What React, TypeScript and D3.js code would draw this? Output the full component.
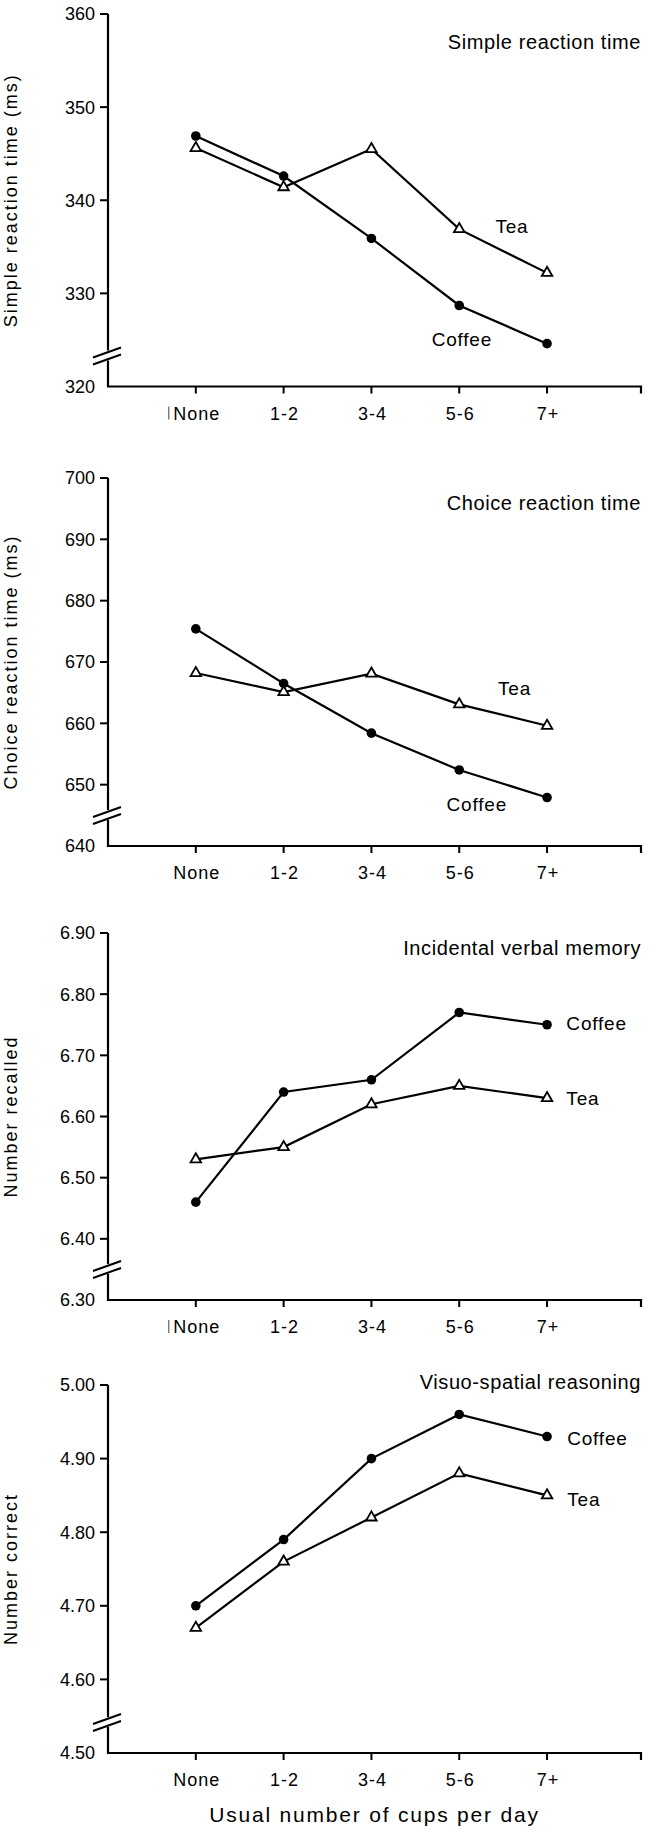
import React from 'react';
import * as d3 from 'd3';

// categories on the x axis
const categories = ['None', '1-2', '3-4', '5-6', '7+'];

// values
const simpleCoffee = [346.9, 342.6, 335.9, 328.7, 324.6];
const simpleTea = [345.6, 341.4, 345.5, 336.9, 332.2];
const choiceCoffee = [675.4, 666.5, 658.4, 652.4, 647.9];
const choiceTea = [668.2, 665.1, 668.1, 663.1, 659.6];
const verbalCoffee = [6.46, 6.64, 6.66, 6.77, 6.75];
const verbalTea = [6.53, 6.55, 6.62, 6.65, 6.63];
const visuoCoffee = [4.7, 4.79, 4.9, 4.96, 4.93];
const visuoTea = [4.67, 4.76, 4.82, 4.88, 4.85];

// y tick labels
const simpleTicks = [320, 330, 340, 350, 360];
const choiceTicks = [640, 650, 660, 670, 680, 690, 700];
const verbalTicks = [6.3, 6.4, 6.5, 6.6, 6.7, 6.8, 6.9];
const visuoTicks = [4.5, 4.6, 4.7, 4.8, 4.9, 5.0];

const FONT = '"Liberation Sans", Arial, Helvetica, sans-serif';
const W = 659;
const H = 1831;
const LEFT = 108;
const RIGHT = 641;

const panels = [
  {
    title: 'Simple reaction time', yLabel: 'Simple reaction time (ms)',
    ticks: simpleTicks, fmt: d3.format('d'), coffee: simpleCoffee, tea: simpleTea,
    top: 14, bottom: 386.5, titleY: 49, mark: true,
    coffeeLabel: { x: 4.03, v: 324.4, anchor: 'middle' }, teaLabel: { x: 4.6, v: 336.5, anchor: 'middle' },
  },
  {
    title: 'Choice reaction time', yLabel: 'Choice reaction time (ms)',
    ticks: choiceTicks, fmt: d3.format('d'), coffee: choiceCoffee, tea: choiceTea,
    top: 478, bottom: 846, titleY: 510, mark: false,
    coffeeLabel: { x: 4.2, v: 645.7, anchor: 'middle' }, teaLabel: { x: 4.63, v: 664.6, anchor: 'middle' },
  },
  {
    title: 'Incidental verbal memory', yLabel: 'Number recalled',
    ticks: verbalTicks, fmt: d3.format('.2f'), coffee: verbalCoffee, tea: verbalTea,
    top: 933, bottom: 1300, titleY: 955, mark: true,
    coffeeLabel: { x: 5.22, v: 6.741, anchor: 'start' }, teaLabel: { x: 5.22, v: 6.619, anchor: 'start' },
  },
  {
    title: 'Visuo-spatial reasoning', yLabel: 'Number correct',
    ticks: visuoTicks, fmt: d3.format('.2f'), coffee: visuoCoffee, tea: visuoTea,
    top: 1385, bottom: 1753, titleY: 1389, mark: false,
    coffeeLabel: { x: 5.23, v: 4.918, anchor: 'start' }, teaLabel: { x: 5.23, v: 4.836, anchor: 'start' },
  },
];

const x = d3.scaleLinear().domain([0, 6.07]).range([LEFT, RIGHT]);
const tri = d3.symbol(d3.symbolTriangle, 48)();

const Panel = ({ p }) => {
  const y = d3.scaleLinear()
    .domain([p.ticks[0], p.ticks[p.ticks.length - 1]])
    .range([p.bottom, p.top]);
  const line = d3.line<number>()
    .x((_, i) => x(i + 1))
    .y(d => y(d));
  const mid = (p.top + p.bottom) / 2;
  const brk = p.bottom - 28;

  return (
    <g>
      {/* axes */}
      <path d={`M${LEFT},${p.top}V${p.bottom}H${RIGHT}v7`} fill="none" stroke="#000" strokeWidth={2.2} />
      {p.ticks.slice(1).map(t => (
        <line key={t} x1={LEFT - 8} x2={LEFT} y1={y(t)} y2={y(t)} stroke="#000" strokeWidth={2} />
      ))}
      {p.ticks.map(t => (
        <text key={'l' + t} x={LEFT - 13} y={y(t)} dy="0.36em" textAnchor="end"
          fontSize={18} fontFamily={FONT}>{p.fmt(t)}</text>
      ))}
      {categories.map((c, i) => (
        <g key={c}>
          <line x1={x(i + 1)} x2={x(i + 1)} y1={p.bottom} y2={p.bottom + 7} stroke="#000" strokeWidth={2} />
          <text x={x(i + 1) + 1} y={p.bottom + 33} textAnchor="middle" fontSize={18}
            letterSpacing={1} fontFamily={FONT}>{c}</text>
        </g>
      ))}
      {p.mark && (
        <line x1={x(1) - 27} x2={x(1) - 27} y1={p.bottom + 20} y2={p.bottom + 33} stroke="#444" strokeWidth={1} />
      )}
      {/* axis break */}
      <rect x={LEFT - 2} y={brk - 8} width={4} height={10} fill="#fff" />
      <line x1={LEFT - 15} x2={LEFT + 13} y1={brk + 6} y2={brk - 4} stroke="#000" strokeWidth={2} />
      <line x1={LEFT - 15} x2={LEFT + 13} y1={brk - 1} y2={brk - 11} stroke="#000" strokeWidth={2} />

      <text x={17} y={mid} transform={`rotate(-90,17,${mid})`} textAnchor="middle"
        fontSize={18} letterSpacing={2} fontFamily={FONT}>{p.yLabel}</text>
      <text x={RIGHT} y={p.titleY} textAnchor="end" fontSize={20} letterSpacing={0.6}
        fontFamily={FONT}>{p.title}</text>

      {/* series */}
      <path d={line(p.tea)} fill="none" stroke="#000" strokeWidth={2.2} />
      <path d={line(p.coffee)} fill="none" stroke="#000" strokeWidth={2.2} />
      {p.tea.map((v, i) => (
        <path key={'t' + i} d={tri} transform={`translate(${x(i + 1)},${y(v)})`}
          fill="#fff" stroke="#000" strokeWidth={1.8} />
      ))}
      {p.coffee.map((v, i) => (
        <circle key={'c' + i} cx={x(i + 1)} cy={y(v)} r={4.8} fill="#000" />
      ))}
      <text x={x(p.coffeeLabel.x)} y={y(p.coffeeLabel.v)} textAnchor={p.coffeeLabel.anchor}
        fontSize={19} letterSpacing={0.8} fontFamily={FONT}>Coffee</text>
      <text x={x(p.teaLabel.x)} y={y(p.teaLabel.v)} textAnchor={p.teaLabel.anchor}
        fontSize={19} letterSpacing={0.8} fontFamily={FONT}>Tea</text>
    </g>
  );
};

export default function App() {
  return (
    <svg width={W} height={H} style={{ position: 'absolute', left: 0, top: 0, background: '#fff' }}>
      {panels.map(p => <Panel key={p.title} p={p} />)}
      <text x={(LEFT + RIGHT) / 2} y={1822} textAnchor="middle" fontSize={21} letterSpacing={1.8}
        fontFamily={FONT}>Usual number of cups per day</text>
    </svg>
  );
}
